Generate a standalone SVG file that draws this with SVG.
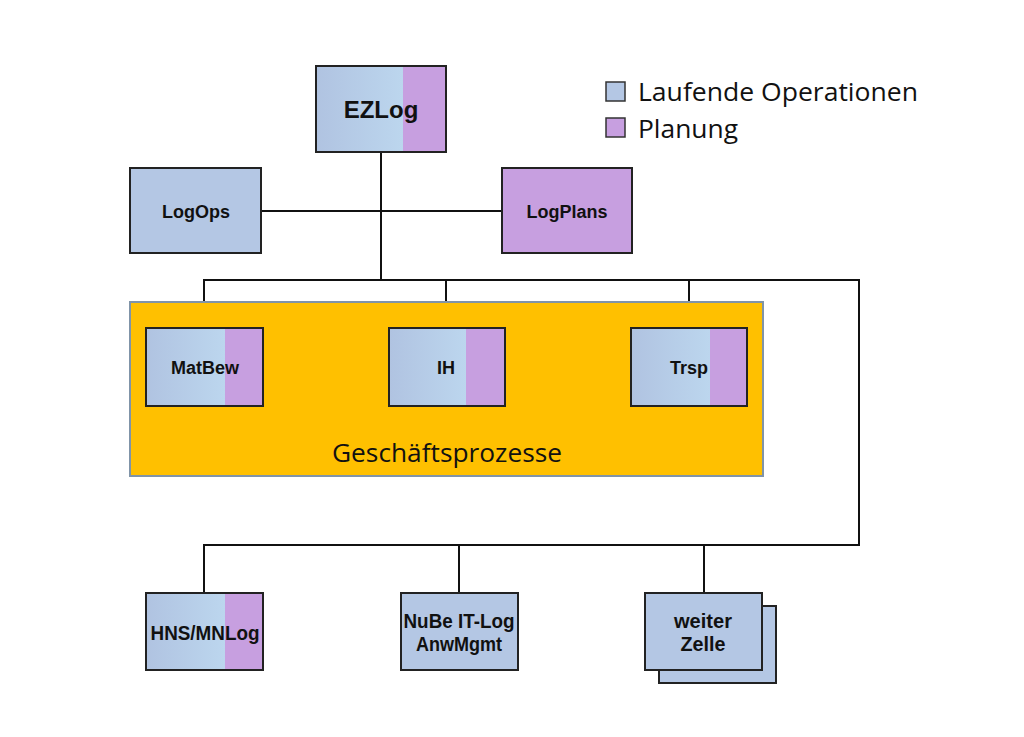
<svg xmlns="http://www.w3.org/2000/svg" width="1024" height="737" viewBox="0 0 1024 737">
<defs>
<linearGradient id="blue" x1="0" y1="0" x2="1" y2="0">
<stop offset="0" stop-color="#b0c3e1"/>
<stop offset="1" stop-color="#bcd6ee"/>
</linearGradient>
<style>
.box{stroke:#222;stroke-width:2}
.blue{fill:url(#blue)}
.plain{fill:#b4c7e4}
.purple{fill:#c79fe0}
.lbl{font-family:"Liberation Sans",Arial,sans-serif;font-weight:bold;font-size:18px;fill:#111;text-anchor:middle}
.narrow{font-family:"Liberation Sans",Arial,sans-serif;font-weight:bold;font-size:20px;fill:#111;text-anchor:middle}
.leg{font-family:"Open Sans","Noto Sans",sans-serif;font-size:25px;fill:#111}
.con{stroke:#111;stroke-width:2;fill:none}
</style>
</defs>
<rect width="1024" height="737" fill="#fff"/>

<g id="connectors">
<line class="con" x1="381" y1="152" x2="381" y2="280"/>
<line class="con" x1="261" y1="211" x2="502" y2="211"/>
<polyline class="con" points="204,328 204,280 859,280 859,545 204,545 204,593"/>
<line class="con" x1="446" y1="280" x2="446" y2="328"/>
<line class="con" x1="689" y1="280" x2="689" y2="328"/>
<line class="con" x1="459" y1="545" x2="459" y2="593"/>
<line class="con" x1="704" y1="545" x2="704" y2="593"/>
</g>

<g id="legend">
<rect x="606" y="82" width="19" height="19" class="plain" stroke="#333" stroke-width="1.5"/>
<text x="638" y="101" class="leg" textLength="280" lengthAdjust="spacingAndGlyphs">Laufende Operationen</text>
<rect x="606" y="118" width="19" height="19" class="purple" stroke="#333" stroke-width="1.5"/>
<text x="638" y="138" class="leg" textLength="100" lengthAdjust="spacingAndGlyphs">Planung</text>
</g>

<g id="EZLog">
<rect x="316" y="66" width="87" height="86" class="blue"/>
<rect x="403" y="66" width="43" height="86" class="purple"/>
<rect x="316" y="66" width="130" height="86" class="box" fill="none"/>
<text x="381" y="118" class="lbl" style="font-size:24px">EZLog</text>
</g>

<g id="LogOps">
<rect x="130" y="168" width="131" height="85" class="box plain"/>
<text x="196" y="218" class="lbl">LogOps</text>
</g>

<g id="LogPlans">
<rect x="502" y="168" width="130" height="85" class="box purple"/>
<text x="567" y="218" class="lbl">LogPlans</text>
</g>

<g id="Geschaeftsprozesse">
<rect x="130" y="302" width="633" height="174" fill="#ffc000" stroke="#8094a8" stroke-width="2"/>
<text x="447" y="462" class="leg" style="text-anchor:middle" textLength="230" lengthAdjust="spacingAndGlyphs">Geschäftsprozesse</text>
</g>

<g id="MatBew">
<rect x="146" y="328" width="79" height="78" class="blue"/>
<rect x="225" y="328" width="38" height="78" class="purple"/>
<rect x="146" y="328" width="117" height="78" class="box" fill="none"/>
<text x="205" y="374" class="lbl">MatBew</text>
</g>

<g id="IH">
<rect x="389" y="328" width="77" height="78" class="blue"/>
<rect x="466" y="328" width="39" height="78" class="purple"/>
<rect x="389" y="328" width="116" height="78" class="box" fill="none"/>
<text x="446" y="374" class="lbl">IH</text>
</g>

<g id="Trsp">
<rect x="631" y="328" width="79" height="78" class="blue"/>
<rect x="710" y="328" width="37" height="78" class="purple"/>
<rect x="631" y="328" width="116" height="78" class="box" fill="none"/>
<text x="689" y="374" class="lbl">Trsp</text>
</g>

<g id="HNSMNLog">
<rect x="146" y="593" width="79" height="77" class="blue"/>
<rect x="225" y="593" width="38" height="77" class="purple"/>
<rect x="146" y="593" width="117" height="77" class="box" fill="none"/>
<text x="205" y="640" class="narrow" textLength="109" lengthAdjust="spacingAndGlyphs">HNS/MNLog</text>
</g>

<g id="NuBe">
<rect x="401" y="593" width="117" height="77" class="box plain"/>
<text x="459" y="628" class="narrow" textLength="111" lengthAdjust="spacingAndGlyphs">NuBe IT-Log</text>
<text x="459" y="651" class="narrow" textLength="86" lengthAdjust="spacingAndGlyphs">AnwMgmt</text>
</g>

<g id="weiterZelle">
<rect x="659" y="606" width="117" height="77" class="box plain"/>
<rect x="645" y="593" width="117" height="77" class="box plain"/>
<text x="703" y="628" class="narrow" textLength="58" lengthAdjust="spacingAndGlyphs">weiter</text>
<text x="703" y="651" class="narrow" textLength="45" lengthAdjust="spacingAndGlyphs">Zelle</text>
</g>
</svg>
